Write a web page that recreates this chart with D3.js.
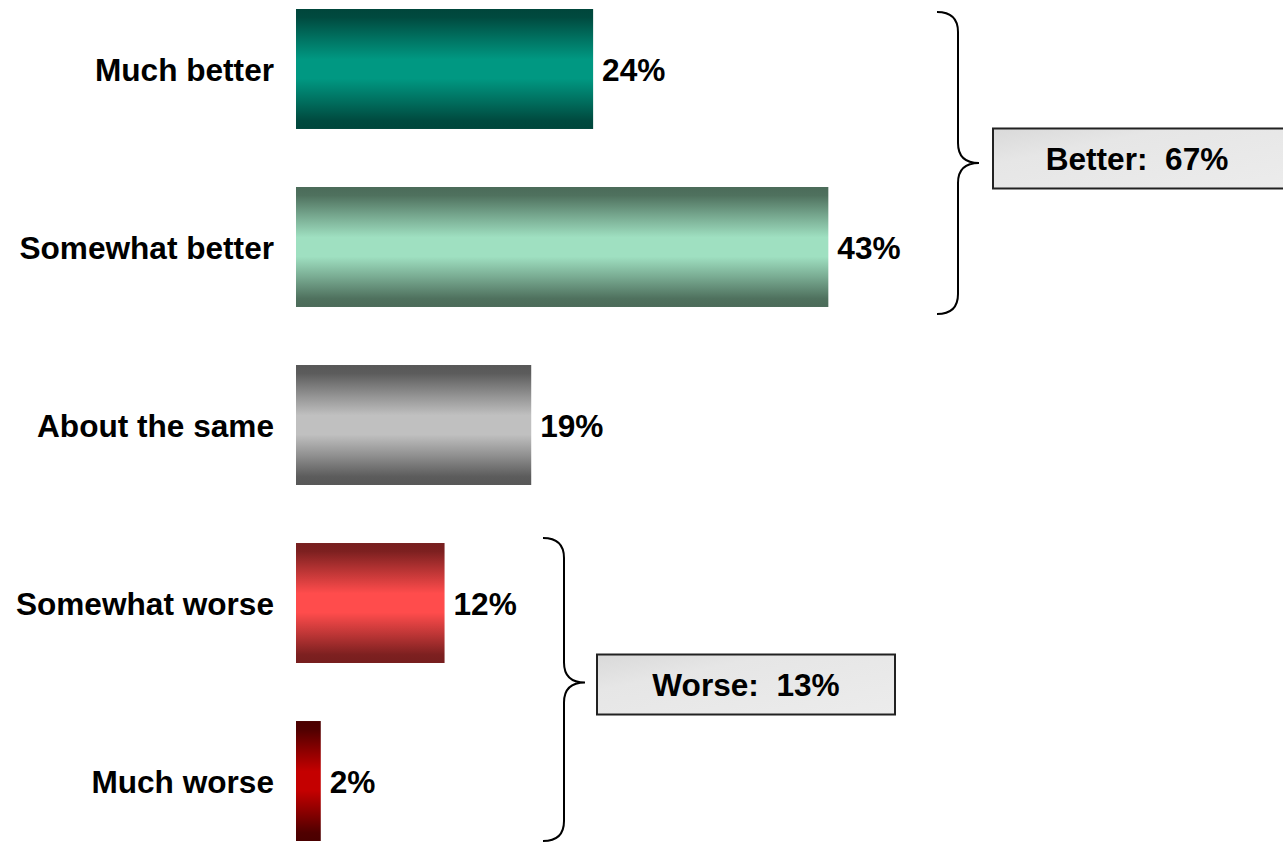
<!DOCTYPE html>
<html>
<head>
<meta charset="utf-8">
<script src="https://cdn.jsdelivr.net/npm/d3@7/dist/d3.min.js"></script>
<style>
  html, body { margin: 0; padding: 0; background: #ffffff; }
  svg { display: block; }
  text { font-family: "Liberation Sans", Arial, Helvetica, sans-serif; font-weight: bold; fill: #000; }
</style>
</head>
<body>
<svg id="chart" width="1283" height="843"></svg>
<script>
// Survey responses
const categories = ["Much better", "Somewhat better", "About the same", "Somewhat worse", "Much worse"];
const values = [24, 43, 19, 12, 2];

// Bar shading: edge colour and centre highlight per category
const edgeColors = ["#00463b", "#4b6b59", "#575757", "#761e1e", "#4a0000"];
const centerColors = ["#009882", "#9fe0c1", "#c0c0c0", "#ff4c4c", "#c40000"];

// Net groupings shown with braces
const groupLabels = ["Better", "Worse"];
const groupValues = [67, 13];
const groupMembers = [["Much better", "Somewhat better"], ["Somewhat worse", "Much worse"]];

// Layout
const W = 1283, H = 843;
const barLeft = 296;
const pxPerPoint = 12.38;
const fontSize = 31.6;
const braceLayout = [
  { x: 937, top: 3, bottom: 7, tip: 0, boxX: 993, boxW: 292, boxH: 60, boxDy: -4.5, textDx: -2 },
  { x: 543, top: -5, bottom: 0, tip: -7, boxX: 597, boxW: 298, boxH: 60, boxDy: 2, textDx: 0 }
];

const svg = d3.select("#chart");
const defs = svg.append("defs");

const x = d3.scaleLinear().domain([0, 100]).range([barLeft, barLeft + pxPerPoint * 100]);
const y = d3.scaleBand().domain(categories).range([9, 841]).paddingInner(0.326).paddingOuter(0);

// Vertical "tube" gradients for the bars
categories.forEach((c, i) => {
  const g = defs.append("linearGradient")
    .attr("id", "grad" + i)
    .attr("x1", 0).attr("y1", 0).attr("x2", 0).attr("y2", 1);
  const mid = d3.interpolateRgb(edgeColors[i], centerColors[i]);
  [[0, 0], [0.07, 0.05], [0.25, 0.55], [0.42, 1], [0.58, 1], [0.75, 0.55], [0.93, 0.05], [1, 0]]
    .forEach(([o, t]) => g.append("stop").attr("offset", o).attr("stop-color", mid(t)));
});

// Box fill: faint diagonal shading
const boxGrad = defs.append("linearGradient")
  .attr("id", "boxGrad").attr("x1", 0).attr("y1", 0).attr("x2", 1).attr("y2", 1);
boxGrad.append("stop").attr("offset", 0).attr("stop-color", "#d9d9d9");
boxGrad.append("stop").attr("offset", 0.3).attr("stop-color", "#e6e6e6");
boxGrad.append("stop").attr("offset", 1).attr("stop-color", "#ececec");

// Bars
svg.append("g").selectAll("rect")
  .data(categories)
  .join("rect")
  .attr("x", x(0))
  .attr("y", d => y(d))
  .attr("width", (d, i) => x(values[i]) - x(0))
  .attr("height", y.bandwidth())
  .attr("fill", (d, i) => `url(#grad${i})`);

// Category labels
svg.append("g").selectAll("text")
  .data(categories)
  .join("text")
  .attr("x", 274)
  .attr("y", d => y(d) + y.bandwidth() / 2 + fontSize * 0.37)
  .attr("text-anchor", "end")
  .attr("font-size", fontSize)
  .text(d => d);

// Value labels
svg.append("g").selectAll("text")
  .data(categories)
  .join("text")
  .attr("x", (d, i) => x(values[i]) + 9)
  .attr("y", d => y(d) + y.bandwidth() / 2 + fontSize * 0.37)
  .attr("font-size", fontSize)
  .text((d, i) => values[i] + "%");

// Brace path: opening at left, point to the right
function bracePath(x0, y0, y1, ym) {
  const r = 20, w = 21;
  const x1 = x0 + w, x2 = x1 + w;
  return `M${x0},${y0} Q${x1},${y0} ${x1},${y0 + r} L${x1},${ym - r} Q${x1},${ym} ${x2},${ym}` +
         ` Q${x1},${ym} ${x1},${ym + r} L${x1},${y1 - r} Q${x1},${y1} ${x0},${y1}`;
}

groupLabels.forEach((label, gi) => {
  const L = braceLayout[gi];
  const members = groupMembers[gi];
  const y0 = y(members[0]) + L.top;
  const y1 = y(members[members.length - 1]) + y.bandwidth() + L.bottom;
  const ym = (y0 + y1) / 2 + L.tip;
  const cy = ym + L.boxDy;

  svg.append("path")
    .attr("d", bracePath(L.x, y0, y1, ym))
    .attr("fill", "none")
    .attr("stroke", "#000")
    .attr("stroke-width", 2);

  svg.append("rect")
    .attr("x", L.boxX)
    .attr("y", cy - L.boxH / 2)
    .attr("width", L.boxW)
    .attr("height", L.boxH)
    .attr("fill", "url(#boxGrad)")
    .attr("stroke", "#222")
    .attr("stroke-width", 2);

  svg.append("text")
    .attr("x", L.boxX + L.boxW / 2 + L.textDx)
    .attr("y", cy + fontSize * 0.36)
    .attr("text-anchor", "middle")
    .attr("font-size", fontSize)
    .style("white-space", "pre")
    .text(`${label}:  ${groupValues[gi]}%`);
});
</script>
</body>
</html>
